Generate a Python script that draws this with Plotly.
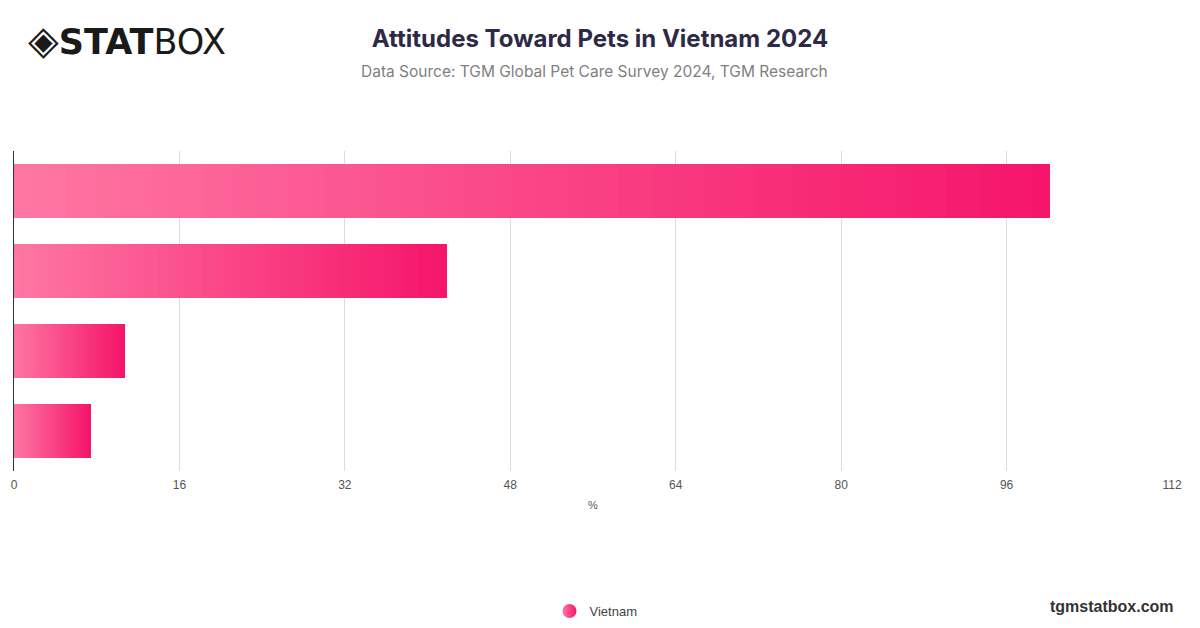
import plotly.graph_objects as go

# survey answers (labels are hidden on the chart)
categories = ["Attitude A", "Attitude B", "Attitude C", "Attitude D"]
vietnam = [100.2, 41.9, 10.7, 7.4]
tick_vals = [0, 16, 32, 48, 64, 80, 96, 112]

# gradient from light pink (left) to deep pink (right)
c_start = (254, 118, 162)
c_end = (245, 21, 106)
n_steps = 60


def mix(t):
    r, g, b = (round(a + (b_ - a) * t) for a, b_ in zip(c_start, c_end))
    return f"rgb({r},{g},{b})"


fig = go.Figure()

# each bar split into equal slices so the colour runs across its own length
for k in range(n_steps):
    fig.add_trace(go.Bar(
        y=categories, x=[v / n_steps for v in vietnam],
        orientation="h",
        marker=dict(color=mix(k / (n_steps - 1)), line=dict(width=0)),
        showlegend=False, hoverinfo="skip",
    ))

# legend entry
fig.add_trace(go.Scatter(
    x=[None], y=[None], mode="markers", name="Vietnam",
    marker=dict(symbol="circle", size=14, color="#fe78a3",
                gradient=dict(type="horizontal", color="#f5156a")),
))

# plot area in page pixels: x 6..1164, y 143..463 (page body adds 8px offset)
fig.update_layout(
    width=1200, height=628,
    barmode="stack", bargap=0.325,
    plot_bgcolor="white", paper_bgcolor="white",
    margin=dict(l=6, r=36, t=143, b=165),
    font=dict(family="Inter, Roboto, sans-serif", color="#555"),
    title=dict(
        text="<b>Attitudes Toward Pets in Vietnam 2024</b>",
        x=(600 - 8) / 1200, xanchor="center", y=1 - 31 / 628, yanchor="middle",
        font=dict(size=24, color="#2d2a45"),
    ),
    legend=dict(orientation="h", xref="container", yref="container",
                x=(596 - 8) / 1200, xanchor="center", y=1 - 603 / 628,
                yanchor="middle",
                font=dict(size=13, color="#444", family="Liberation Sans, Arial")),
)

fig.update_xaxes(
    range=[0, 112], tickvals=tick_vals, showgrid=True, gridcolor="#dcdcdc",
    zeroline=False, showline=False, ticks="", automargin=False,
    ticklabelstandoff=5,
    tickfont=dict(size=12, color="#555", family="Liberation Sans, Arial"),
    title=dict(text="%", font=dict(size=11, color="#555",
                                   family="Liberation Sans, Arial"), standoff=10),
)
fig.update_yaxes(
    categoryorder="array", categoryarray=categories[::-1],
    showticklabels=False, showgrid=False, zeroline=False, automargin=False,
    showline=True, linecolor="#333", linewidth=1.2,
)

# subtitle, logo and site name
fig.add_annotation(
    text="Data Source: TGM Global Pet Care Survey 2024, TGM Research",
    xref="paper", yref="paper", x=0.5 + 1 / 1158, y=1.0 + (143 - 63) / 320,
    xanchor="center", yanchor="middle", showarrow=False,
    font=dict(size=15.5, color="#808080"),
)
fig.add_annotation(
    text="<span style='font-size:40px'>◈</span><b>STAT</b>BOX",
    xref="paper", yref="paper", x=12 / 1158, y=1.0 + (143 - 32) / 320,
    xanchor="left", yanchor="middle", showarrow=False,
    font=dict(size=35, color="#1a1a1a", family="DejaVu Sans"),
)
fig.add_annotation(
    text="<b>tgmstatbox.com</b>",
    xref="paper", yref="paper", x=(1168 - 6) / 1158, y=-(598 - 463) / 320,
    xanchor="right", yanchor="middle", showarrow=False,
    font=dict(size=16, color="#333", family="Liberation Sans, Arial"),
)

fig.write_html("out.html")
